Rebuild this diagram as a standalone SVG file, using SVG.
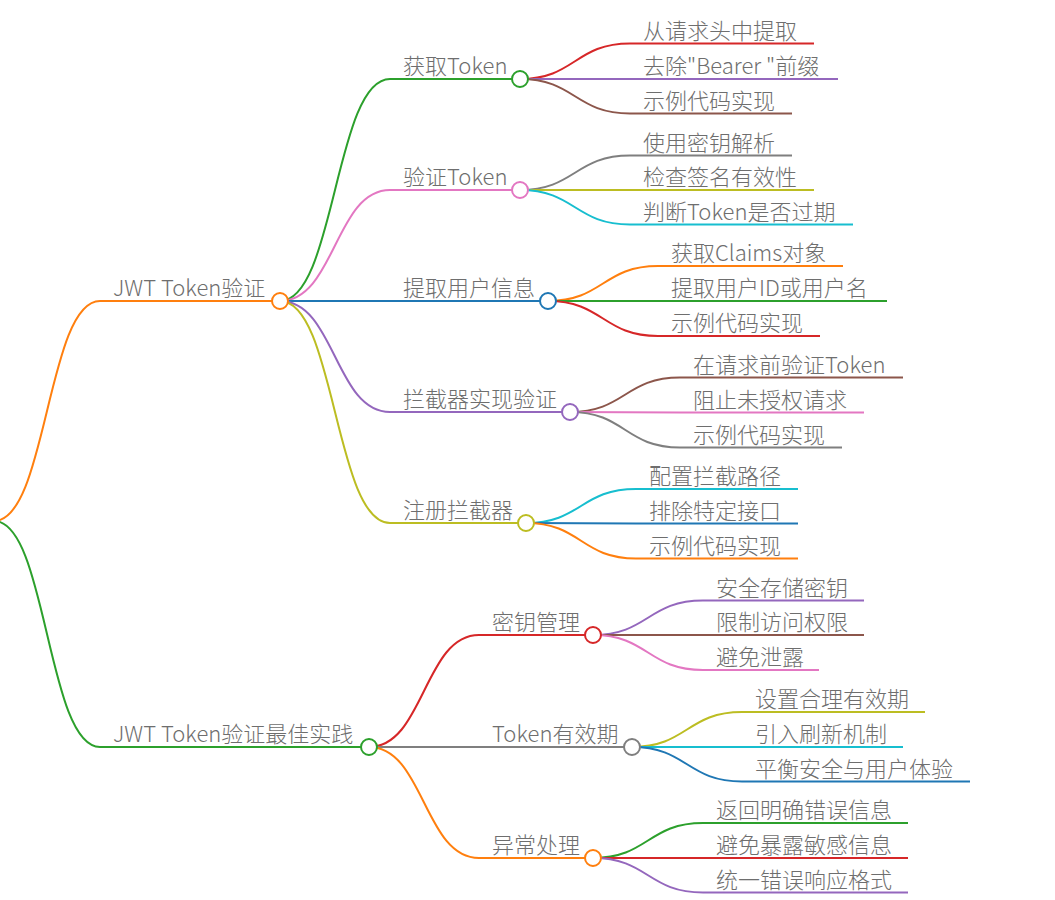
<svg xmlns="http://www.w3.org/2000/svg" width="1055" height="900" viewBox="0 0 1055 900">
<style>
text{font-family:"Noto Sans CJK SC","Noto Sans",sans-serif;font-size:22px;font-weight:300;fill:#6e6e6e;}
.lk{fill:none;stroke-width:2;}
.ul{stroke-width:2;}
circle{fill:#fff;stroke-width:2;}
</style>
<rect width="1055" height="900" fill="#fff"/>
<g id="connectors">
<path class="lk" stroke="#ff7f0e" d="M-6,521 C47,521 47,301 100,301"/>
<path class="lk" stroke="#2ca02c" d="M-6,521 C47,521 47,747 100,747"/>
<path class="lk" stroke="#2ca02c" d="M280,301 C335,301 335,79 390,79"/>
<path class="lk" stroke="#e377c2" d="M280,301 C335,301 335,190 390,190"/>
<path class="lk" stroke="#1f77b4" d="M280,301 C335,301 335,301 390,301"/>
<path class="lk" stroke="#9467bd" d="M280,301 C335,301 335,412 390,412"/>
<path class="lk" stroke="#bcbd22" d="M280,301 C335,301 335,523 390,523"/>
<path class="lk" stroke="#d62728" d="M369,747 C424,747 424,635 479,635"/>
<path class="lk" stroke="#7f7f7f" d="M369,747 C424,747 424,747 479,747"/>
<path class="lk" stroke="#ff7f0e" d="M369,747 C424,747 424,858 479,858"/>
<path class="lk" stroke="#d62728" d="M520,79 C575,79 575,43.5 630,43.5"/>
<path class="lk" stroke="#9467bd" d="M520,79 C575,79 575,79 630,79"/>
<path class="lk" stroke="#8c564b" d="M520,79 C575,79 575,113.5 630,113.5"/>
<path class="lk" stroke="#7f7f7f" d="M520,190 C575,190 575,155.5 630,155.5"/>
<path class="lk" stroke="#bcbd22" d="M520,190 C575,190 575,190 630,190"/>
<path class="lk" stroke="#17becf" d="M520,190 C575,190 575,224.5 630,224.5"/>
<path class="lk" stroke="#ff7f0e" d="M548,301 C603,301 603,266 658,266"/>
<path class="lk" stroke="#2ca02c" d="M548,301 C603,301 603,301 658,301"/>
<path class="lk" stroke="#d62728" d="M548,301 C603,301 603,336 658,336"/>
<path class="lk" stroke="#8c564b" d="M570,412 C625,412 625,377.5 680,377.5"/>
<path class="lk" stroke="#e377c2" d="M570,412 C625,412 625,412.5 680,412.5"/>
<path class="lk" stroke="#7f7f7f" d="M570,412 C625,412 625,447.5 680,447.5"/>
<path class="lk" stroke="#17becf" d="M526,523 C581,523 581,489 636,489"/>
<path class="lk" stroke="#1f77b4" d="M526,523 C581,523 581,523.5 636,523.5"/>
<path class="lk" stroke="#ff7f0e" d="M526,523 C581,523 581,558.5 636,558.5"/>
<path class="lk" stroke="#9467bd" d="M593,635 C648,635 648,600.5 703,600.5"/>
<path class="lk" stroke="#8c564b" d="M593,635 C648,635 648,635 703,635"/>
<path class="lk" stroke="#e377c2" d="M593,635 C648,635 648,670 703,670"/>
<path class="lk" stroke="#bcbd22" d="M632,747 C687,747 687,712 742,712"/>
<path class="lk" stroke="#17becf" d="M632,747 C687,747 687,747 742,747"/>
<path class="lk" stroke="#1f77b4" d="M632,747 C687,747 687,781.5 742,781.5"/>
<path class="lk" stroke="#2ca02c" d="M593,858 C648,858 648,823 703,823"/>
<path class="lk" stroke="#d62728" d="M593,858 C648,858 648,858 703,858"/>
<path class="lk" stroke="#9467bd" d="M593,858 C648,858 648,892.5 703,892.5"/>
</g>
<g id="n1"><line class="ul" x1="100" y1="301" x2="280" y2="301" stroke="#ff7f0e"/><text x="113" y="296">JWT Token验证</text><circle cx="280" cy="301" r="8" stroke="#ff7f0e"/></g>
<g id="n2"><line class="ul" x1="100" y1="747" x2="369" y2="747" stroke="#2ca02c"/><text x="113" y="742">JWT Token验证最佳实践</text><circle cx="369" cy="747" r="8" stroke="#2ca02c"/></g>
<g id="n1a"><line class="ul" x1="390" y1="79" x2="520" y2="79" stroke="#2ca02c"/><text x="403" y="74">获取Token</text><circle cx="520" cy="79" r="8" stroke="#2ca02c"/></g>
<g id="n1b"><line class="ul" x1="390" y1="190" x2="520" y2="190" stroke="#e377c2"/><text x="403" y="185">验证Token</text><circle cx="520" cy="190" r="8" stroke="#e377c2"/></g>
<g id="n1c"><line class="ul" x1="390" y1="301" x2="548" y2="301" stroke="#1f77b4"/><text x="403" y="296">提取用户信息</text><circle cx="548" cy="301" r="8" stroke="#1f77b4"/></g>
<g id="n1d"><line class="ul" x1="390" y1="412" x2="570" y2="412" stroke="#9467bd"/><text x="403" y="407">拦截器实现验证</text><circle cx="570" cy="412" r="8" stroke="#9467bd"/></g>
<g id="n1e"><line class="ul" x1="390" y1="523" x2="526" y2="523" stroke="#bcbd22"/><text x="403" y="518">注册拦截器</text><circle cx="526" cy="523" r="8" stroke="#bcbd22"/></g>
<g id="n2a"><line class="ul" x1="479" y1="635" x2="593" y2="635" stroke="#d62728"/><text x="492" y="630">密钥管理</text><circle cx="593" cy="635" r="8" stroke="#d62728"/></g>
<g id="n2b"><line class="ul" x1="479" y1="747" x2="632" y2="747" stroke="#7f7f7f"/><text x="492" y="742">Token有效期</text><circle cx="632" cy="747" r="8" stroke="#7f7f7f"/></g>
<g id="n2c"><line class="ul" x1="479" y1="858" x2="593" y2="858" stroke="#ff7f0e"/><text x="492" y="853">异常处理</text><circle cx="593" cy="858" r="8" stroke="#ff7f0e"/></g>
<g id="n1a1"><line class="ul" x1="630" y1="43.5" x2="814" y2="43.5" stroke="#d62728"/><text x="643" y="38.5">从请求头中提取</text></g>
<g id="n1a2"><line class="ul" x1="630" y1="79" x2="838" y2="79" stroke="#9467bd"/><text x="643" y="74">去除"Bearer "前缀</text></g>
<g id="n1a3"><line class="ul" x1="630" y1="113.5" x2="792" y2="113.5" stroke="#8c564b"/><text x="643" y="108.5">示例代码实现</text></g>
<g id="n1b1"><line class="ul" x1="630" y1="155.5" x2="792" y2="155.5" stroke="#7f7f7f"/><text x="643" y="150.5">使用密钥解析</text></g>
<g id="n1b2"><line class="ul" x1="630" y1="190" x2="814" y2="190" stroke="#bcbd22"/><text x="643" y="185">检查签名有效性</text></g>
<g id="n1b3"><line class="ul" x1="630" y1="224.5" x2="853" y2="224.5" stroke="#17becf"/><text x="643" y="219.5">判断Token是否过期</text></g>
<g id="n1c1"><line class="ul" x1="658" y1="266" x2="843" y2="266" stroke="#ff7f0e"/><text x="671" y="261">获取Claims对象</text></g>
<g id="n1c2"><line class="ul" x1="658" y1="301" x2="887" y2="301" stroke="#2ca02c"/><text x="671" y="296">提取用户ID或用户名</text></g>
<g id="n1c3"><line class="ul" x1="658" y1="336" x2="820" y2="336" stroke="#d62728"/><text x="671" y="331">示例代码实现</text></g>
<g id="n1d1"><line class="ul" x1="680" y1="377.5" x2="903" y2="377.5" stroke="#8c564b"/><text x="693" y="372.5">在请求前验证Token</text></g>
<g id="n1d2"><line class="ul" x1="680" y1="412.5" x2="864" y2="412.5" stroke="#e377c2"/><text x="693" y="407.5">阻止未授权请求</text></g>
<g id="n1d3"><line class="ul" x1="680" y1="447.5" x2="842" y2="447.5" stroke="#7f7f7f"/><text x="693" y="442.5">示例代码实现</text></g>
<g id="n1e1"><line class="ul" x1="636" y1="489" x2="798" y2="489" stroke="#17becf"/><text x="649" y="484">配置拦截路径</text></g>
<g id="n1e2"><line class="ul" x1="636" y1="523.5" x2="798" y2="523.5" stroke="#1f77b4"/><text x="649" y="518.5">排除特定接口</text></g>
<g id="n1e3"><line class="ul" x1="636" y1="558.5" x2="798" y2="558.5" stroke="#ff7f0e"/><text x="649" y="553.5">示例代码实现</text></g>
<g id="n2a1"><line class="ul" x1="703" y1="600.5" x2="864" y2="600.5" stroke="#9467bd"/><text x="716" y="595.5">安全存储密钥</text></g>
<g id="n2a2"><line class="ul" x1="703" y1="635" x2="864" y2="635" stroke="#8c564b"/><text x="716" y="630">限制访问权限</text></g>
<g id="n2a3"><line class="ul" x1="703" y1="670" x2="819" y2="670" stroke="#e377c2"/><text x="716" y="665">避免泄露</text></g>
<g id="n2b1"><line class="ul" x1="742" y1="712" x2="925" y2="712" stroke="#bcbd22"/><text x="755" y="707">设置合理有效期</text></g>
<g id="n2b2"><line class="ul" x1="742" y1="747" x2="903" y2="747" stroke="#17becf"/><text x="755" y="742">引入刷新机制</text></g>
<g id="n2b3"><line class="ul" x1="742" y1="781.5" x2="970" y2="781.5" stroke="#1f77b4"/><text x="755" y="776.5">平衡安全与用户体验</text></g>
<g id="n2c1"><line class="ul" x1="703" y1="823" x2="908" y2="823" stroke="#2ca02c"/><text x="716" y="818">返回明确错误信息</text></g>
<g id="n2c2"><line class="ul" x1="703" y1="858" x2="908" y2="858" stroke="#d62728"/><text x="716" y="853">避免暴露敏感信息</text></g>
<g id="n2c3"><line class="ul" x1="703" y1="892.5" x2="908" y2="892.5" stroke="#9467bd"/><text x="716" y="887.5">统一错误响应格式</text></g>
</svg>
